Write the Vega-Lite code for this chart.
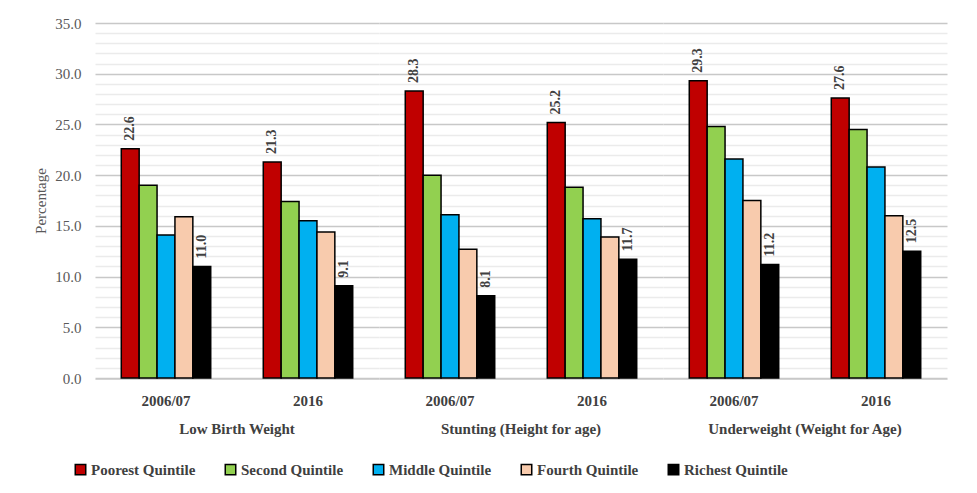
{
  "$schema": "https://vega.github.io/schema/vega-lite/v6.json",
  "padding": {"top": 16, "left": 33, "right": 10, "bottom": 5},
  "background": "white",
  "data": {"values": [
    {"indicator": "Low Birth Weight", "year": "2006/07", "quintile": "Poorest Quintile", "value": 22.6},
    {"indicator": "Low Birth Weight", "year": "2006/07", "quintile": "Second Quintile", "value": 19.0},
    {"indicator": "Low Birth Weight", "year": "2006/07", "quintile": "Middle Quintile", "value": 14.1},
    {"indicator": "Low Birth Weight", "year": "2006/07", "quintile": "Fourth Quintile", "value": 15.9},
    {"indicator": "Low Birth Weight", "year": "2006/07", "quintile": "Richest Quintile", "value": 11.0},
    {"indicator": "Low Birth Weight", "year": "2016", "quintile": "Poorest Quintile", "value": 21.3},
    {"indicator": "Low Birth Weight", "year": "2016", "quintile": "Second Quintile", "value": 17.4},
    {"indicator": "Low Birth Weight", "year": "2016", "quintile": "Middle Quintile", "value": 15.5},
    {"indicator": "Low Birth Weight", "year": "2016", "quintile": "Fourth Quintile", "value": 14.4},
    {"indicator": "Low Birth Weight", "year": "2016", "quintile": "Richest Quintile", "value": 9.1},
    {"indicator": "Stunting (Height for age)", "year": "2006/07", "quintile": "Poorest Quintile", "value": 28.3},
    {"indicator": "Stunting (Height for age)", "year": "2006/07", "quintile": "Second Quintile", "value": 20.0},
    {"indicator": "Stunting (Height for age)", "year": "2006/07", "quintile": "Middle Quintile", "value": 16.1},
    {"indicator": "Stunting (Height for age)", "year": "2006/07", "quintile": "Fourth Quintile", "value": 12.7},
    {"indicator": "Stunting (Height for age)", "year": "2006/07", "quintile": "Richest Quintile", "value": 8.1},
    {"indicator": "Stunting (Height for age)", "year": "2016", "quintile": "Poorest Quintile", "value": 25.2},
    {"indicator": "Stunting (Height for age)", "year": "2016", "quintile": "Second Quintile", "value": 18.8},
    {"indicator": "Stunting (Height for age)", "year": "2016", "quintile": "Middle Quintile", "value": 15.7},
    {"indicator": "Stunting (Height for age)", "year": "2016", "quintile": "Fourth Quintile", "value": 13.9},
    {"indicator": "Stunting (Height for age)", "year": "2016", "quintile": "Richest Quintile", "value": 11.7},
    {"indicator": "Underweight (Weight for Age)", "year": "2006/07", "quintile": "Poorest Quintile", "value": 29.3},
    {"indicator": "Underweight (Weight for Age)", "year": "2006/07", "quintile": "Second Quintile", "value": 24.8},
    {"indicator": "Underweight (Weight for Age)", "year": "2006/07", "quintile": "Middle Quintile", "value": 21.6},
    {"indicator": "Underweight (Weight for Age)", "year": "2006/07", "quintile": "Fourth Quintile", "value": 17.5},
    {"indicator": "Underweight (Weight for Age)", "year": "2006/07", "quintile": "Richest Quintile", "value": 11.2},
    {"indicator": "Underweight (Weight for Age)", "year": "2016", "quintile": "Poorest Quintile", "value": 27.6},
    {"indicator": "Underweight (Weight for Age)", "year": "2016", "quintile": "Second Quintile", "value": 24.5},
    {"indicator": "Underweight (Weight for Age)", "year": "2016", "quintile": "Middle Quintile", "value": 20.8},
    {"indicator": "Underweight (Weight for Age)", "year": "2016", "quintile": "Fourth Quintile", "value": 16.0},
    {"indicator": "Underweight (Weight for Age)", "year": "2016", "quintile": "Richest Quintile", "value": 12.5}
  ]},
  "facet": {
    "column": {
      "field": "indicator",
      "type": "nominal",
      "sort": ["Low Birth Weight", "Stunting (Height for age)", "Underweight (Weight for Age)"],
      "title": null,
      "header": {
        "labelOrient": "bottom",
        "labelFont": "Liberation Serif",
        "labelFontWeight": "bold",
        "labelFontSize": 15,
        "labelColor": "#404040",
        "labelPadding": 14
      }
    }
  },
  "spacing": 0,
  "spec": {
    "width": 284,
    "height": 355,
    "layer": [
      {
        "mark": {"type": "bar", "stroke": "black", "strokeWidth": 1.5},
        "encoding": {
          "x": {
            "field": "year", "type": "nominal", "sort": ["2006/07", "2016"], "title": null,
            "scale": {"paddingInner": 0.37, "paddingOuter": 0.185},
            "axis": {"labelAngle": 0, "ticks": false, "domain": true, "domainColor": "#d9d9d9",
                     "labelFont": "Liberation Serif", "labelFontWeight": "bold", "labelFontSize": 15,
                     "labelColor": "#404040", "labelPadding": 14}
          },
          "xOffset": {"field": "quintile", "type": "nominal",
                      "sort": ["Poorest Quintile", "Second Quintile", "Middle Quintile", "Fourth Quintile", "Richest Quintile"],
                      "scale": {"paddingInner": 0, "paddingOuter": 0}},
          "y": {
            "field": "value", "type": "quantitative", "title": "Percentage",
            "scale": {"domain": [0, 35], "nice": false},
            "axis": {
              "values": [0,1,2,3,4,5,6,7,8,9,10,11,12,13,14,15,16,17,18,19,20,21,22,23,24,25,26,27,28,29,30,31,32,33,34,35],
              "tickCount": 40,
              "labelExpr": "datum.value % 5 === 0 ? format(datum.value, '.1f') : ''",
              "labelOverlap": false,
              "ticks": false, "domain": false,
              "gridColor": {"condition": {"test": "datum.value % 5 === 0", "value": "#c8c8c8"}, "value": "#ebebeb"},
              "gridWidth": 1.3,
              "labelFont": "Liberation Serif", "labelFontSize": 15, "labelColor": "#595959", "labelPadding": 14,
              "titleFont": "Liberation Serif", "titleFontSize": 15, "titleFontWeight": "normal", "titleColor": "#595959",
              "titlePadding": 6
            }
          },
          "color": {
            "field": "quintile", "type": "nominal", "title": null,
            "sort": ["Poorest Quintile", "Second Quintile", "Middle Quintile", "Fourth Quintile", "Richest Quintile"],
            "scale": {
              "domain": ["Poorest Quintile", "Second Quintile", "Middle Quintile", "Fourth Quintile", "Richest Quintile"],
              "range": ["#c00000", "#92d050", "#00b0f0", "#f8cbad", "#000000"]
            },
            "legend": {
              "orient": "none", "legendX": -22, "legendY": 439,
              "direction": "horizontal", "symbolType": "square", "symbolSize": 110,
              "symbolStrokeColor": "black", "symbolStrokeWidth": 1.5, "symbolOpacity": 1,
              "labelFont": "Liberation Serif", "labelFontWeight": "bold", "labelFontSize": 15, "labelColor": "#404040",
              "columnPadding": 26, "labelOffset": 3, "labelLimit": 300
            }
          }
        }
      },
      {
        "transform": [{"filter": "datum.quintile === 'Poorest Quintile' || datum.quintile === 'Richest Quintile'"}],
        "mark": {"type": "text", "angle": 270, "align": "left", "baseline": "middle", "dx": 8,
                 "font": "Liberation Serif", "fontWeight": "bold", "fontSize": 14, "color": "#404040"},
        "encoding": {
          "x": {"field": "year", "type": "nominal", "sort": ["2006/07", "2016"]},
          "xOffset": {"field": "quintile", "type": "nominal",
                      "sort": ["Poorest Quintile", "Second Quintile", "Middle Quintile", "Fourth Quintile", "Richest Quintile"]},
          "y": {"field": "value", "type": "quantitative"},
          "text": {"field": "value", "type": "quantitative", "format": ".1f"}
        }
      }
    ]
  },
  "config": {"view": {"stroke": null}}
}
